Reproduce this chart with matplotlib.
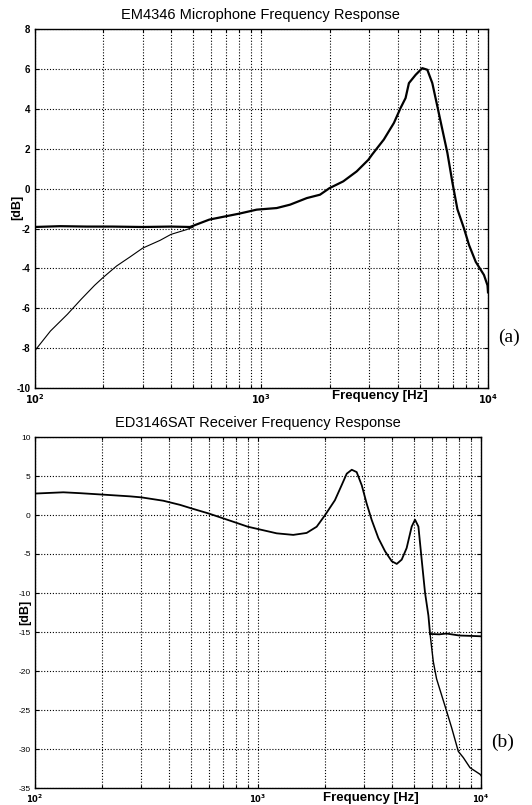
import matplotlib
matplotlib.use("Agg")
import matplotlib.pyplot as plt
from matplotlib.ticker import FixedLocator, FixedFormatter, LogLocator, NullFormatter
import numpy as np

# ---------------- data ----------------
title_a = "EM4346 Microphone Frequency Response"
title_b = "ED3146SAT Receiver Frequency Response"

# (a) thick curve: flat then shared response
mic_main_f = [100, 130, 170, 220, 300, 400, 485, 590, 700, 800, 955, 1170, 1340, 1588,
              1816, 2000, 2300, 2636, 2966, 3085, 3473, 3846, 4115, 4330, 4480, 4800,
              5130, 5400, 5680, 5980, 6290, 6620, 6970, 7330, 7840, 8250, 8830, 9600,
              9950, 10000]
mic_main_db = [-1.92, -1.88, -1.9, -1.9, -1.92, -1.9, -1.92, -1.55, -1.38, -1.25, -1.05,
               -0.97, -0.8, -0.47, -0.3, 0.03, 0.37, 0.87, 1.45, 1.72, 2.47, 3.3, 4.05,
               4.55, 5.3, 5.72, 6.05, 5.97, 5.3, 4.13, 2.97, 1.8, 0.3, -1.03, -2.0, -2.83,
               -3.67, -4.33, -4.85, -5.2]
# (a) thin curve: rising low-frequency branch
mic_low_f = [100, 117.6, 139.7, 160.5, 184, 200, 230, 264, 300, 358, 400, 469, 500]
mic_low_db = [-8.15, -7.14, -6.3, -5.55, -4.85, -4.47, -3.88, -3.42, -2.98, -2.59, -2.29,
              -2.05, -1.93]

# (b) main receiver response
rec_f = [100, 134, 159, 200, 267, 300, 376, 447, 500, 600, 700, 800, 900, 1000, 1213,
         1439, 1652, 1833, 2000, 2213, 2370, 2500, 2633, 2770, 2920, 3070, 3235, 3465,
         3715, 3980, 4190, 4410, 4640, 4890, 5060, 5240, 5420, 5610, 5810, 5910]
rec_db = [2.75, 2.91, 2.8, 2.62, 2.39, 2.26, 1.83, 1.3, 0.87, 0.2, -0.44, -1.0, -1.5,
          -1.8, -2.35, -2.55, -2.3, -1.5, 0.0, 1.9, 3.8, 5.3, 5.8, 5.5, 3.8, 1.48, -0.64,
          -2.96, -4.66, -5.93, -6.27, -5.72, -4.24, -1.48, -0.6, -1.48, -5.72, -9.95,
          -12.9, -15.25]
# (b) flat high-frequency branch
rec_flat_f = [5910, 6500, 7000, 8000, 9000, 10000]
rec_flat_db = [-15.25, -15.3, -15.2, -15.45, -15.5, -15.55]
# (b) falling high-frequency branch
rec_fall_f = [5910, 6110, 6320, 6660, 7020, 7390, 7910, 8330, 8930, 9910, 10000]
rec_fall_db = [-15.25, -18.8, -21.0, -23.1, -25.2, -27.3, -30.3, -31.1, -32.4, -33.25, -33.4]

x_ticks = [100, 1000, 10000]
x_tick_labels = [r"$\mathbf{10^{2}}$", r"$\mathbf{10^{3}}$", r"$\mathbf{10^{4}}$"]
ya_ticks = [-10, -8, -6, -4, -2, 0, 2, 4, 6, 8]
yb_ticks = [-35, -30, -25, -20, -15, -10, -5, 0, 5, 10]

# ---------------- figure ----------------
plt.rcParams["font.family"] = ["Liberation Sans", "DejaVu Sans"]
plt.rcParams["axes.unicode_minus"] = False
fig = plt.figure(figsize=(5.32, 8.05), dpi=100)
W, H = 532.0, 805.0


def px_axes(l, r, t, b):
    return fig.add_axes([l / W, 1 - b / H, (r - l) / W, (b - t) / H])


ax1 = px_axes(34.5, 488, 29.3, 388)
ax2 = px_axes(35, 481, 437, 788)

grid_kw = dict(color="black", linestyle=(0, (1, 1.6)), linewidth=0.8)


def style(ax, yticks, ylim, tick_size, tick_weight):
    ax.set_xscale("log")
    ax.set_xlim(100, 10000)
    ax.set_ylim(*ylim)
    ax.xaxis.set_major_locator(FixedLocator(x_ticks))
    ax.xaxis.set_major_formatter(FixedFormatter(x_tick_labels))
    ax.xaxis.set_minor_locator(LogLocator(base=10, subs=np.arange(2, 10)))
    ax.xaxis.set_minor_formatter(NullFormatter())
    ax.yaxis.set_major_locator(FixedLocator(yticks))
    ax.grid(True, which="major", axis="both", **grid_kw)
    ax.grid(True, which="minor", axis="x", **grid_kw)
    ax.tick_params(which="both", direction="in", top=True, right=True,
                   length=3, width=0.8, labelsize=tick_size, pad=3)
    ax.tick_params(which="minor", length=2)
    for lab in ax.get_yticklabels():
        lab.set_fontweight(tick_weight)
    for s in ax.spines.values():
        s.set_linewidth(1.0)
        s.set_color("black")


style(ax1, ya_ticks, (-10, 8), 7, "bold")
style(ax2, yb_ticks, (-35, 10), 6, "normal")

ax1.plot(mic_low_f, mic_low_db, color="black", lw=0.8)
ax1.plot(mic_main_f, mic_main_db, color="black", lw=1.6)

ax2.plot(rec_f, rec_db, color="black", lw=1.3)
ax2.plot(rec_flat_f, rec_flat_db, color="black", lw=1.3)
ax2.plot(rec_fall_f, rec_fall_db, color="black", lw=1.0)

# titles
fig.text(260 / W, 1 - 15 / H, title_a, ha="center", va="center", fontsize=10.5)
fig.text(258 / W, 1 - 423 / H, title_b, ha="center", va="center", fontsize=10.5)

# axis labels
fig.text(380 / W, 1 - 396 / H, "Frequency [Hz]", ha="center", va="center",
         fontsize=9.5, fontweight="bold")
fig.text(371 / W, 1 - 798 / H, "Frequency [Hz]", ha="center", va="center",
         fontsize=9.5, fontweight="bold")
fig.text(17 / W, 1 - 207 / H, "[dB]", ha="center", va="center", rotation=90,
         fontsize=9, fontweight="bold")
fig.text(25 / W, 1 - 612 / H, "[dB]", ha="center", va="center", rotation=90,
         fontsize=9, fontweight="bold")

# panel letters
fig.text(509 / W, 1 - 337 / H, "(a)", ha="center", va="center", fontsize=14,
         family=["Liberation Serif", "DejaVu Serif"])
fig.text(503 / W, 1 - 742 / H, "(b)", ha="center", va="center", fontsize=14,
         family=["Liberation Serif", "DejaVu Serif"])

fig.savefig("out.png", dpi=100)
